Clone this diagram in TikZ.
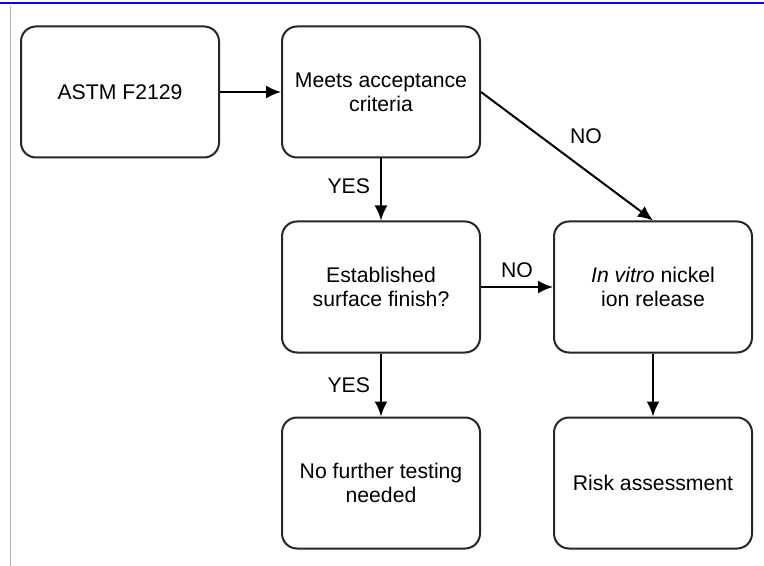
\documentclass[tikz,border=0pt]{standalone}
\usepackage{fontspec}
\setmainfont{Liberation Sans}
\usetikzlibrary{arrows.meta}

\begin{document}
\begin{tikzpicture}[x=0.5pt, y=-0.5pt, -{Latex[length=7.5pt,width=6.5pt]}, align=center]
\tikzstyle{box} = [draw=black!85, line width=1pt, rounded corners=7.5pt, minimum width=99pt, minimum height=65.5pt, font=\fontsize{10.6}{12}\selectfont]
\tikzstyle{e} = [draw=black, line width=1pt]
\tikzstyle{lbl} = [font=\fontsize{10.6}{12}\selectfont, inner sep=1pt]

\useasboundingbox (0,0) rectangle (764,566);
% page edge bits
\draw[-, blue, line width=1.2pt] (0,3) -- (764,3);
\draw[-, black!30, line width=0.5pt] (10,6) -- (10,566);

\node[box] (astm) at (120, 92) {ASTM F2129};
\node[box] (meets) at (381, 92) {Meets acceptance\\criteria};
\node[box] (est) at (381, 287) {Established\\surface finish?};
\node[box] (vitro) at (653, 287) {\textit{In vitro} nickel\\ion release};
\node[box] (nofurther) at (381, 483) {No further testing\\needed};
\node[box] (risk) at (653, 483) {Risk assessment};

\draw[e] (astm) to (meets);
\draw[e] (meets) to node[lbl, pos=0.45, left=4pt] (yes1) {YES} (est);
\draw[e] (meets.east) to node[lbl, pos=0.5, anchor=south west, yshift=5pt] (no1) {NO} (vitro.north);
\draw[e] (est) to node[lbl, above=3pt] (no2) {NO} (vitro);
\draw[e] (est) to node[lbl, pos=0.5, left=4pt] (yes2) {YES} (nofurther);
\draw[e] (vitro) to (risk);
\end{tikzpicture}
\end{document}
